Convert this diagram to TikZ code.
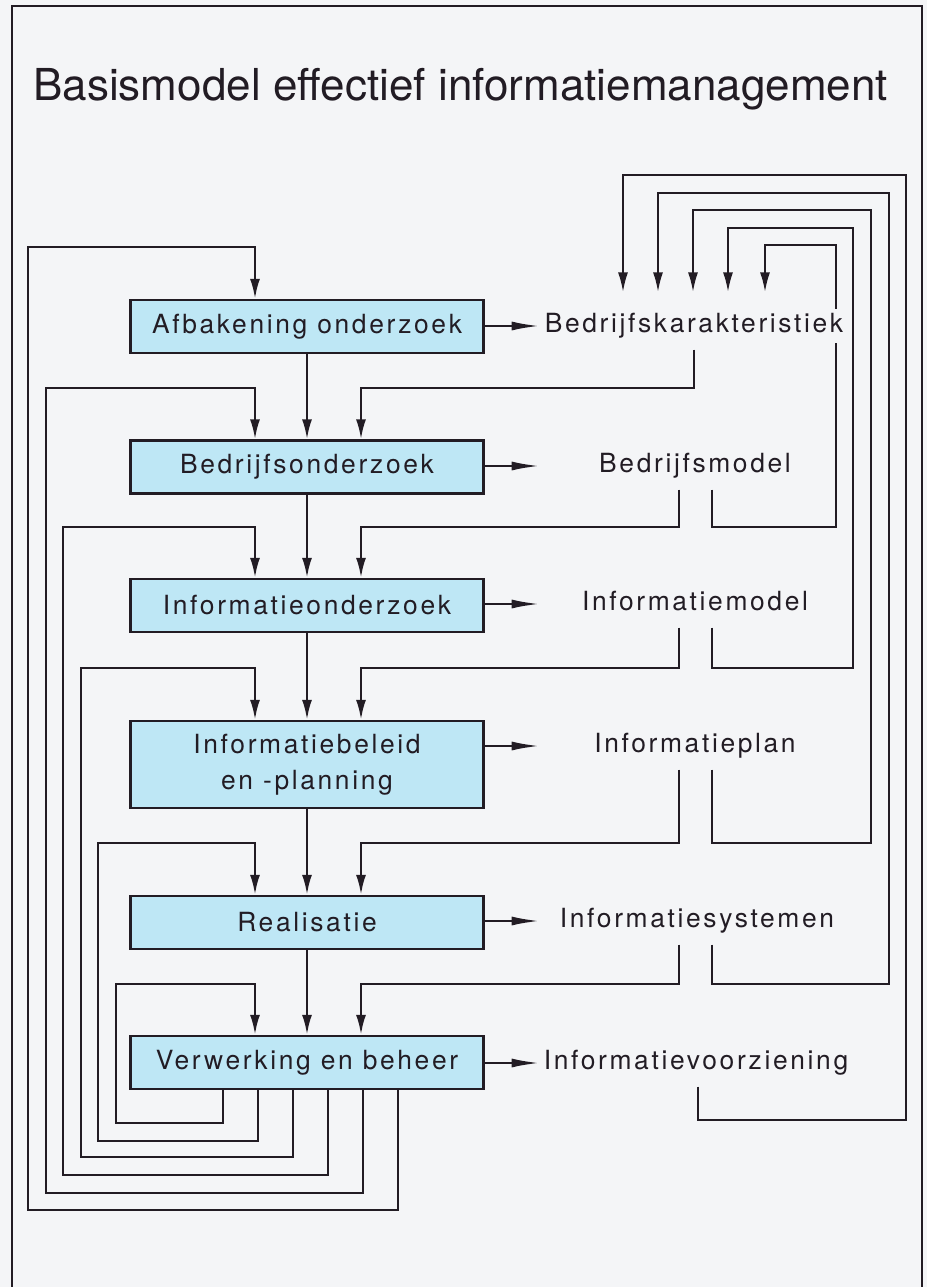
\documentclass[tikz,border=0pt]{standalone}
\usepackage{fontspec}
\usetikzlibrary{arrows.meta,backgrounds}
\newfontfamily\titlefont{TeX Gyre Heros}
\newfontfamily\stagefont[LetterSpace=10]{TeX Gyre Heros}
\definecolor{paper}{RGB}{244,245,247}
\definecolor{ink}{RGB}{34,28,36}
\definecolor{boxblue}{RGB}{190,231,245}

\tikzset{
  stage/.style={draw=ink,line width=1.2pt,fill=boxblue,minimum width=176.5pt,
    minimum height=26.5pt,inner sep=0pt,text=ink,align=center,
    font=\stagefont\fontsize{13.2}{18}\selectfont},
  result/.style={fill=paper,inner xsep=0pt,inner ysep=2.5pt,text height=9.5pt,
    text depth=2.7pt,text=ink,font=\stagefont\fontsize{13.2}{18}\selectfont},
  wire/.style={draw=ink,line width=1.2pt},
  feed/.style={wire,-{Latex[length=10pt,width=5pt]}},
  outarrow/.style={wire,-{Latex[length=14pt,width=4.5pt]}}
}

\begin{document}
\begin{tikzpicture}[x=0.5pt,y=-0.5pt]
\useasboundingbox (0,0) rectangle (927,1287);

% title
\node[anchor=base west,inner sep=0pt,text=ink,font=\titlefont\fontsize{22}{26}\selectfont] (title) at (33,100) {Basismodel effectief informatiemanagement};

% stages
\node[stage] (b1) at (307,326.5) {Afbakening onderzoek};
\node[stage] (b2) at (307,467) {Bedrijfsonderzoek};
\node[stage] (b3) at (307,605.5) {Informatieonderzoek};
\node[stage,minimum height=43.5pt] (b4) at (307,764.5) {Informatiebeleid\\en -planning};
\node[stage] (b5) at (307,922.5) {Realisatie};
\node[stage] (b6) at (307,1062.5) {Verwerking en beheer};

% results
\node[result] (kar) at (694,326) {Bedrijfskarakteristiek};
\node[result] (bmod) at (695,466) {Bedrijfsmodel};
\node[result] (imod) at (695,604) {Informatiemodel};
\node[result] (iplan) at (695,746) {Informatieplan};
\node[result] (isys) at (697,921) {Informatiesystemen};
\node[result] (ivz) at (696,1063) {Informatievoorziening};

\begin{pgfonlayer}{background}
\fill[paper] (0,0) rectangle (927,1287);
\draw[wire] (12,1287) -- (12,6) -- (922,6) -- (922,1287);

% main flow
\foreach \a/\b in {b1/b2,b2/b3,b3/b4,b4/b5,b5/b6}
  \draw[feed] (\a) -- (\b);
\foreach \b/\r in {b1/kar,b2/bmod,b3/imod,b4/iplan,b5/isys,b6/ivz}
  \draw[outarrow] (\b.east |- \r) -- ++(55,0);

% feedback left
\foreach \bx/\lv/\lx/\ty/\t in {223/1123/116/984/b6,258/1141/98/843/b5,293/1157/81/668/b4,
    328/1175/63/527/b3,363/1193/46/388/b2,398/1210/28/247/b1}
  \draw[feed] (b6.south -| \bx,0) |- (\lx,\lv) |- (255,\ty) -- (\t.north -| 255,0);

% results into next stage
\draw[feed,shorten <=3pt] (kar.south -| 694,0) |- (361,388) -- (b2.north -| 361,0);
\foreach \r/\y/\t in {bmod/527/b3,imod/668/b4,iplan/843/b5,isys/984/b6}
  \draw[feed,shorten <=3pt] (\r.south -| 679,0) |- (361,\y) -- (\t.north -| 361,0);

% results back to Bedrijfskarakteristiek
\foreach \r/\y/\vx/\lv/\ax in {bmod/527/836/245/765,imod/668/853/228/728,
    iplan/843/871/210/693,isys/984/889/193/658}
  \draw[feed,shorten <=3pt,shorten >=8pt] (\r.south -| 712,0) |- (\vx,\y) |- (\ax,\lv) -- (kar.north -| \ax,0);
\draw[feed,shorten <=3pt,shorten >=8pt] (ivz.south -| 698,0) |- (906,1120) |- (623,175) -- (kar.north -| 623,0);
\end{pgfonlayer}
\end{tikzpicture}
\end{document}
